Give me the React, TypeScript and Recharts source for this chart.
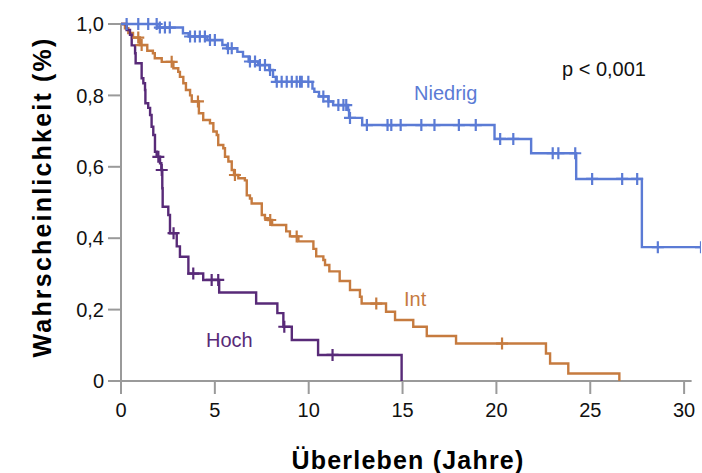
import { ComposedChart, Line, Scatter, XAxis, YAxis, ReferenceLine } from 'recharts'

// Kaplan-Meier steps: [Zeit in Jahren, Überlebenswahrscheinlichkeit nach dem Ereignis]
const niedrigSteps: [number, number][] = [
  [0, 1], [1.95, 0.99], [3.3, 0.974], [3.6, 0.965], [4.6, 0.955], [5.4, 0.941], [5.65, 0.932],
  [6.2, 0.922], [6.5, 0.909], [6.8, 0.895], [7.3, 0.885], [7.9, 0.871], [8.1, 0.852], [8.25, 0.838],
  [10.2, 0.819], [10.3, 0.81], [10.55, 0.797], [11.05, 0.783], [11.3, 0.773], [12.1, 0.759],
  [12.15, 0.737], [12.85, 0.717], [19.9, 0.678], [21.85, 0.638], [24.25, 0.566], [27.75, 0.375],
]
const niedrigCensored = [
  0.3, 0.92, 1.45, 1.9, 2.07, 2.34, 2.6, 3.68, 3.94, 4.2, 4.47, 4.74, 5.0, 5.7, 5.9, 6.87, 7.14,
  7.4, 7.67, 7.94, 8.3, 8.56, 8.83, 9.1, 9.36, 9.54, 9.63, 9.98, 10.78, 11.05, 11.58, 11.85, 12.0,
  12.2, 13.1, 14.2, 14.4, 14.9, 16.0, 16.7, 18.0, 18.9, 20.2, 20.9, 23.0, 23.3, 24.2, 25.1, 26.7,
  27.5, 28.6, 30.9,
]

const intSteps: [number, number][] = [
  [0, 1], [0.21, 0.988], [0.39, 0.975], [0.64, 0.962], [1.0, 0.941], [1.4, 0.925], [1.7, 0.918],
  [1.8, 0.904], [2.17, 0.894], [2.79, 0.876], [3.05, 0.866], [3.14, 0.852], [3.32, 0.834],
  [3.46, 0.815], [3.68, 0.8], [3.77, 0.783], [4.15, 0.75], [4.38, 0.731], [4.74, 0.722],
  [4.92, 0.699], [5.1, 0.689], [5.18, 0.661], [5.45, 0.652], [5.54, 0.628], [5.72, 0.615],
  [5.9, 0.591], [6.02, 0.577], [6.25, 0.568], [6.6, 0.562], [6.7, 0.52], [6.87, 0.511],
  [6.96, 0.497], [7.5, 0.465], [7.67, 0.456], [7.83, 0.451], [8.05, 0.437], [8.8, 0.419],
  [9.0, 0.405], [9.45, 0.391], [10.25, 0.37], [10.4, 0.349], [10.78, 0.339], [10.87, 0.325],
  [11.1, 0.307], [11.65, 0.28], [12.2, 0.255], [12.73, 0.236], [12.82, 0.217], [14.12, 0.194],
  [14.6, 0.171], [15.57, 0.152], [16.29, 0.126], [17.85, 0.105], [22.64, 0.077], [22.86, 0.049],
  [23.83, 0.021], [26.55, 0],
]
const intCensored = [0.92, 1.1, 2.7, 4.1, 6.07, 7.95, 9.36, 13.6, 20.3]

const hochSteps: [number, number][] = [
  [0, 1], [0.3, 0.983], [0.48, 0.97], [0.57, 0.94], [0.75, 0.918], [0.78, 0.89], [1.1, 0.848],
  [1.19, 0.834], [1.28, 0.815], [1.3, 0.778], [1.45, 0.765], [1.55, 0.745], [1.63, 0.712],
  [1.72, 0.689], [1.81, 0.642], [1.9, 0.628], [2.08, 0.61], [2.15, 0.591], [2.2, 0.54],
  [2.22, 0.488], [2.52, 0.465], [2.61, 0.414], [2.97, 0.377], [3.14, 0.348], [3.59, 0.301],
  [4.38, 0.283], [5.23, 0.248], [7.2, 0.217], [8.33, 0.19], [8.65, 0.152], [9.1, 0.115],
  [10.5, 0.073], [14.95, 0],
]
const hochCensored = [1.99, 2.17, 2.8, 3.85, 4.83, 5.18, 8.7, 11.27]

const xTicks = [0, 5, 10, 15, 20, 25, 30]
const yTicks = [0, 0.2, 0.4, 0.6, 0.8, 1]
const yTickLabels = ['0', '0,2', '0,4', '0,6', '0,8', '1,0']

const BLUE = '#5b7bd5'
const ORANGE = '#c67b3f'
const PURPLE = '#582a78'
const AXIS = '#9a9a9a'
const FONT = '"Liberation Sans", Arial, sans-serif'

const valueAt = (steps: [number, number][], t: number) => {
  let v = steps[0][1]
  for (const [st, sv] of steps) if (st <= t) v = sv
  return v
}

const curve = (steps: [number, number][], censored: number[]) => {
  const pts = steps.map(([t, s]) => ({ t, s }))
  const lastCensor = censored[censored.length - 1]
  const last = steps[steps.length - 1]
  if (lastCensor > last[0]) pts.push({ t: lastCensor, s: last[1] })
  return pts
}

const marks = (steps: [number, number][], censored: number[]) =>
  censored.map((t) => ({ t, s: valueAt(steps, t) }))

const Cross = (color: string) => (props: any) => {
  const { cx, cy } = props
  if (cx == null || cy == null) return <g />
  return (
    <path d={`M${cx - 6},${cy}H${cx + 6}M${cx},${cy - 6}V${cy + 6}`} stroke={color} strokeWidth={2.2} fill="none" />
  )
}

const series = [
  { name: 'Niedrig', color: BLUE, steps: niedrigSteps, censored: niedrigCensored },
  { name: 'Int', color: ORANGE, steps: intSteps, censored: intCensored },
  { name: 'Hoch', color: PURPLE, steps: hochSteps, censored: hochCensored },
]

const App = () => (
  <div style={{ position: 'absolute', left: 0, top: 0, width: 702, height: 473, background: '#fff', fontFamily: FONT }}>
    <ComposedChart width={702} height={473} margin={{ top: 24, right: 1, left: 0, bottom: 0 }}>
      <XAxis
        dataKey="t"
        type="number"
        domain={[0, 30.9]}
        ticks={xTicks}
        allowDataOverflow
        axisLine={false}
        tickLine={{ stroke: AXIS, strokeWidth: 2 }}
        tickSize={13}
        tickMargin={9}
        height={92}
        tick={{ fontSize: 20, fill: '#111', fontFamily: FONT }}
      />
      <YAxis
        type="number"
        domain={[0, 1]}
        ticks={yTicks}
        tickFormatter={(v: number) => yTickLabels[yTicks.indexOf(v)]}
        axisLine={{ stroke: AXIS, strokeWidth: 2 }}
        tickLine={{ stroke: AXIS, strokeWidth: 2 }}
        tickSize={13}
        tickMargin={4}
        width={121}
        tick={{ fontSize: 20, fill: '#111', fontFamily: FONT }}
      />
      <ReferenceLine
        segment={[{ x: 0, y: 0 }, { x: 30.4, y: 0 }]}
        stroke={AXIS}
        strokeWidth={2}
        ifOverflow="visible"
      />
      {series.map((s) => (
        <Line
          key={s.name}
          data={curve(s.steps, s.censored)}
          dataKey="s"
          type="stepAfter"
          stroke={s.color}
          strokeWidth={2.4}
          dot={false}
          activeDot={false}
          isAnimationActive={false}
        />
      ))}
      {series.map((s) => (
        <Scatter
          key={s.name + '-c'}
          data={marks(s.steps, s.censored)}
          dataKey="s"
          shape={Cross(s.color)}
          isAnimationActive={false}
        />
      ))}
      <text x={562} y={76} fontSize={20} fill="#111" fontFamily={FONT}>p &lt; 0,001</text>
      <text x={414} y={100} fontSize={20} fill={BLUE} fontFamily={FONT}>Niedrig</text>
      <text x={404} y={306} fontSize={20} fill={ORANGE} fontFamily={FONT}>Int</text>
      <text x={206} y={347} fontSize={20} fill={PURPLE} fontFamily={FONT}>Hoch</text>
      <text x={408} y={469} fontSize={25} fontWeight="bold" letterSpacing={1.2} textAnchor="middle" fill="#000" fontFamily={FONT}>
        Überleben (Jahre)
      </text>
      <text
        x={51}
        y={197}
        transform="rotate(-90 51 197)"
        fontSize={25}
        fontWeight="bold"
        letterSpacing={2.2}
        textAnchor="middle"
        fill="#000"
        fontFamily={FONT}
      >
        Wahrscheinlichkeit (%)
      </text>
    </ComposedChart>
  </div>
)

export default App
